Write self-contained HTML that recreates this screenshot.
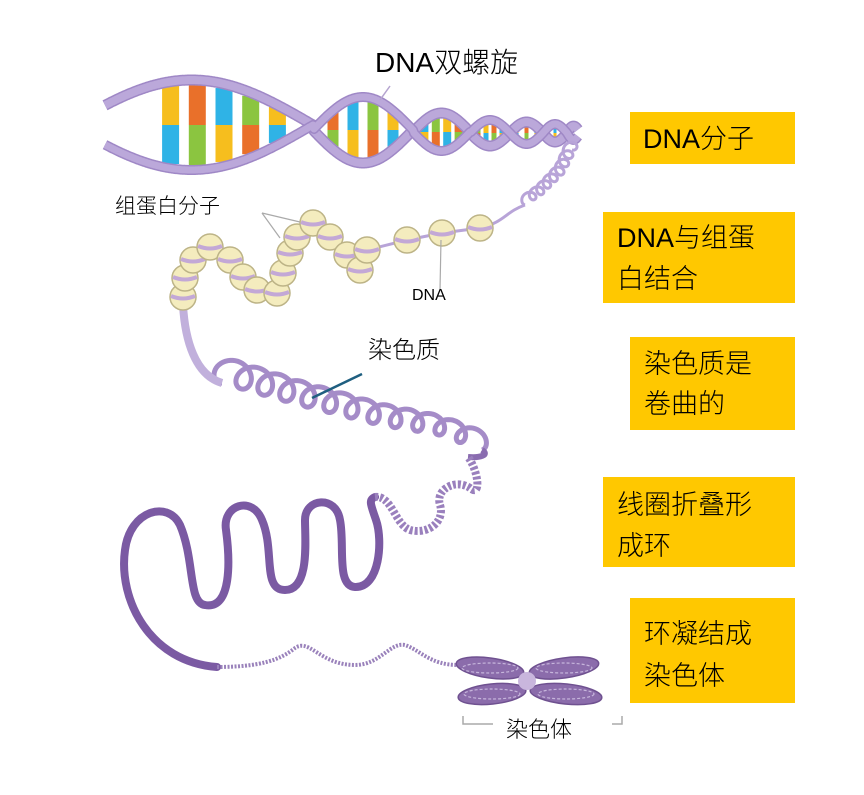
<!DOCTYPE html>
<html><head><meta charset="utf-8"><style>
body{margin:0;background:#fff;width:864px;height:795px;overflow:hidden}
svg{display:block}
.t{font-family:"Liberation Sans","Noto Sans CJK SC",sans-serif;fill:#000;font-weight:300}
</style></head><body>
<svg id="s" width="864" height="795" viewBox="0 0 864 795" xmlns="http://www.w3.org/2000/svg">
<g id="helix"></g>
<g id="coils"></g>
<g id="nuc"></g>
<path d="M217,667 C150,662 118,600 125,550 C130,510 168,500 180,525 C195,560 188,603 205,605 C232,610 230,560 226,530 C222,505 252,495 262,520 C275,550 262,590 285,590 C310,590 305,540 305,520 C305,498 336,495 340,520 C345,545 336,586 355,587 C380,588 383,540 376,520 C371,505 368,500 375,497" fill="none" stroke="#7b5aa3" stroke-width="8" stroke-linecap="round"/>
<path d="M375,497 C392,495 395,525 410,530 C430,535 445,520 440,505 C435,490 455,478 470,488 C482,498 478,470 468,457" fill="none" stroke="#9a80bd" stroke-width="8" stroke-dasharray="3 2"/>
<path d="M217,667 C260,667 280,660 295,648 C310,638 320,665 355,665 C380,665 390,642 405,645 C420,650 430,665 458,665" fill="none" stroke="#9a82bb" stroke-width="4" stroke-dasharray="2 1.5"/>
<g fill="#8b6cab" stroke="#6f5190" stroke-width="1.5">
<ellipse cx="490" cy="668" rx="34" ry="10" transform="rotate(8 490 668)"/>
<ellipse cx="492" cy="694" rx="34" ry="10" transform="rotate(-6 492 694)"/>
<ellipse cx="564" cy="668" rx="35" ry="10" transform="rotate(-8 564 668)"/>
<ellipse cx="566" cy="694" rx="36" ry="10" transform="rotate(6 566 694)"/>
</g>
<g fill="none" stroke="#c7b6dc" stroke-width="1.2" stroke-dasharray="3 2">
<ellipse cx="490" cy="668" rx="28" ry="5"/><ellipse cx="492" cy="694" rx="28" ry="5"/>
<ellipse cx="564" cy="668" rx="28" ry="5"/><ellipse cx="566" cy="694" rx="28" ry="5"/>
</g>
<circle cx="527" cy="681" r="9" fill="#c9b6dd"/>
<line x1="390" y1="86" x2="380" y2="100" stroke="#b5a4cf" stroke-width="1.5"/>
<line x1="262" y1="213" x2="300" y2="222" stroke="#aaa" stroke-width="1.2"/>
<line x1="262" y1="213" x2="280" y2="238" stroke="#aaa" stroke-width="1.2"/>
<line x1="440" y1="290" x2="441" y2="240" stroke="#aaa" stroke-width="1.2"/>
<line x1="362" y1="374" x2="312" y2="398" stroke="#1f5f80" stroke-width="2.5"/>
<text class="t" x="375" y="72" font-size="28">DNA双螺旋</text>
<text class="t" x="115" y="213" font-size="21" fill="#222">组蛋白分子</text>
<text class="t" x="412" y="300" font-size="16">DNA</text>
<text class="t" x="368" y="358" font-size="24">染色质</text>
<path d="M463,716 v8 h30 M622,716 v8 h-10" fill="none" stroke="#aaa" stroke-width="1.5"/>
<text class="t" x="506" y="737" font-size="22">染色体</text>
<g fill="#ffc800">
<rect x="630" y="112" width="165" height="52"/>
<rect x="603" y="212" width="192" height="91"/>
<rect x="630" y="337" width="165" height="93"/>
<rect x="603" y="477" width="192" height="90"/>
<rect x="630" y="598" width="165" height="105"/>
</g>
<g class="t" font-size="27">
<text x="643" y="148">DNA分子</text>
<text x="617" y="247">DNA与组蛋</text><text x="617" y="288">白结合</text>
<text x="644" y="373">染色质是</text><text x="644" y="413">卷曲的</text>
<text x="617" y="514">线圈折叠形</text><text x="617" y="555">成环</text>
<text x="644" y="643">环凝结成</text><text x="644" y="685">染色体</text>
</g>
</svg>
<script>
var NS="http://www.w3.org/2000/svg";
function el(p,t,a){var e=document.createElementNS(NS,t);for(var k in a)e.setAttribute(k,a[k]);p.appendChild(e);return e;}
var cr=[70,313,413,470,510,543,567,580],amp=[45,33,19,13,11,9,7],cy=[125,130,132,133,133,133,133];
function at(x){for(var i=0;i<cr.length-1;i++){if(x<=cr[i+1]){var f=(x-cr[i])/(cr[i+1]-cr[i]);return{ph:(i+f)*Math.PI,a:amp[i],c:cy[i]};}}return{ph:7*Math.PI,a:7,c:133};}
var H=document.getElementById('helix');
var cols=[["#f6be1e","#2fb3e6"],["#e9702a","#8bc540"],["#2fb3e6","#f6be1e"],["#8bc540","#e9702a"]];
var NB=[5,4,4,4,3,3],WB=[17,11,8,5,4,3];
for(var i=0;i<6;i++){var n=NB[i];var x0=i==0?135:cr[i];for(var j=0;j<n;j++){var f=0.2+0.6*j/(n-1);var x=x0+f*(cr[i+1]-x0);var q=at(x);var h=Math.abs(Math.sin(q.ph))*q.a*0.9;var w=WB[i];var c=cols[(j+i)%4];
el(H,'rect',{x:x-w/2,y:q.c-h,width:w,height:h,fill:c[0]});el(H,'rect',{x:x-w/2,y:q.c,width:w,height:h,fill:c[1]});}}
for(var s=0;s<2;s++){var d="";for(var x=105;x<=578;x+=1){var q=at(x);var y=s?q.c+q.a*Math.sin(q.ph):q.c-q.a*Math.sin(q.ph);d+=(x==105?"M":"L")+x+","+y.toFixed(1);}
el(H,'path',{d:d,fill:"none",stroke:"#9f88c6","stroke-width":s?10:11,"stroke-linejoin":"round"});
el(H,'path',{d:d,fill:"none",stroke:"#bba8da","stroke-width":s?7:8,"stroke-linejoin":"round"});}
var C=document.getElementById('coils');
function troch(pts,n,r0,r1,dir){var d="";var N=n*40;var L=[0];for(var i=1;i<pts.length;i++)L.push(L[i-1]+Math.hypot(pts[i][0]-pts[i-1][0],pts[i][1]-pts[i-1][1]));var T=L[L.length-1];
for(var k=0;k<=N;k++){var s=k/N*T;var i=1;while(i<L.length-1&&L[i]<s)i++;var f=(s-L[i-1])/(L[i]-L[i-1]);var bx=pts[i-1][0]+f*(pts[i][0]-pts[i-1][0]),by=pts[i-1][1]+f*(pts[i][1]-pts[i-1][1]);var r=r0+(r1-r0)*k/N;var a=k/N*n*2*Math.PI;
var x=bx+dir*r*Math.sin(a),y=by-r*(1-Math.cos(a));d+=(k?"L":"M")+x.toFixed(1)+","+y.toFixed(1);}return d;}
el(C,'path',{d:troch([[222,383],[300,405],[380,425],[440,435],[482,450]],12,13,9,-1),fill:"none",stroke:"#a58cc8","stroke-width":5});
el(C,'path',{d:"M183,305 C185,340 195,375 222,383",fill:"none",stroke:"#c1b0dc","stroke-width":8});
el(C,'path',{d:"M482,450 C490,455 480,458 468,457",fill:"none",stroke:"#8a6cb0","stroke-width":6});
el(C,'path',{d:troch([[572,150],[560,175],[540,195],[525,205]],8,6,5,1),fill:"none",stroke:"#b8a4d8","stroke-width":3});
var B=[[183,297],[185,278],[193,260],[210,247],[230,260],[243,277],[257,290],[277,293],[283,273],[290,253],[297,237],[313,223],[330,237],[347,255],[360,270],[367,250],[407,240],[442,233],[480,228]];
var td="M"+B[0][0]+","+B[0][1];for(var i=1;i<B.length;i++)td+=" L"+B[i][0]+","+B[i][1];td+=" C505,222 505,212 525,205";
el(C,'path',{d:td,fill:"none",stroke:"#b8a4d8","stroke-width":3,"stroke-linejoin":"round"});
var N=document.getElementById('nuc');
B.forEach(function(p){
el(N,'circle',{cx:p[0],cy:p[1],r:13,fill:"#f4ecbe",stroke:"#bdb487","stroke-width":1.5});
el(N,'path',{d:"M"+(p[0]-12)+","+(p[1]-1)+" Q"+p[0]+","+(p[1]+4)+" "+(p[0]+12)+","+(p[1]-1),fill:"none",stroke:"#c3a8d6","stroke-width":4});});
</script>
</body></html>
